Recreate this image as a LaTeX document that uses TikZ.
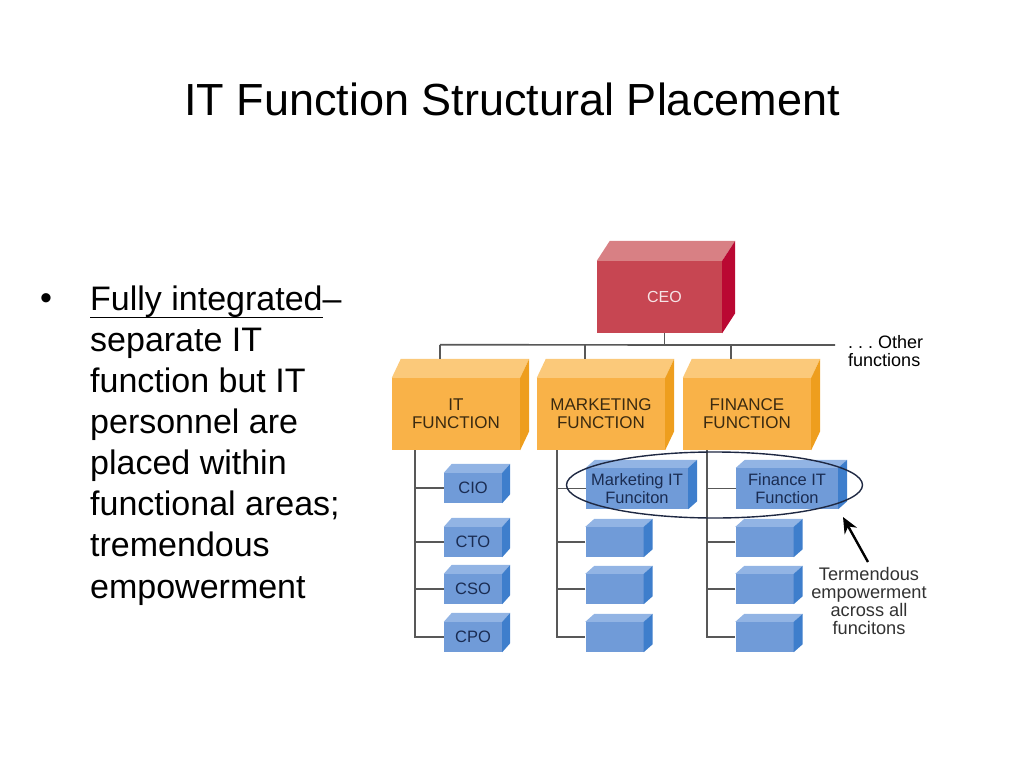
\documentclass[tikz,border=0pt]{standalone}
\usepackage{fontspec}
\setmainfont{Liberation Sans}
\usetikzlibrary{arrows.meta}

\definecolor{frontceo}{RGB}{199,70,82}
\definecolor{topceo}{RGB}{216,128,132}
\definecolor{sideceo}{RGB}{186,8,50}
\definecolor{txtceo}{RGB}{246,228,230}
\definecolor{frontfn}{RGB}{249,178,72}
\definecolor{topfn}{RGB}{251,201,122}
\definecolor{sidefn}{RGB}{238,158,30}
\definecolor{txtfn}{RGB}{58,42,16}
\definecolor{frontsub}{RGB}{112,155,216}
\definecolor{topsub}{RGB}{146,180,228}
\definecolor{sidesub}{RGB}{62,126,204}
\definecolor{txtsub}{RGB}{26,44,82}
\definecolor{linegray}{RGB}{88,88,88}
\definecolor{ringnavy}{RGB}{30,40,66}
\definecolor{notegray}{RGB}{50,50,50}

\newcommand\ulined[1]{\setbox0\hbox{#1}\rlap{\rule[-8pt]{\wd0}{1.6pt}}\box0}

\begin{document}
\begin{tikzpicture}[x=1pt, y=-1pt,
  every node/.style={inner sep=0pt},
  ceobox/.style={fill=frontceo, text=txtceo, minimum width=125pt, minimum height=72pt, font=\fontsize{16}{18}\selectfont},
  fnbox/.style={fill=frontfn, text=txtfn, minimum width=128pt, minimum height=72pt, align=center, font=\fontsize{17}{18}\selectfont},
  subbox/.style={fill=frontsub, text=txtsub, minimum width=58pt, minimum height=30pt, align=center, font=\fontsize{16.5}{18}\selectfont},
  widebox/.style={subbox, minimum width=102pt, minimum height=41pt},
  link/.style={draw=linegray, line width=1.7pt},
  ring/.style={draw=ringnavy, line width=1.4pt},
  pointer/.style={draw=black, line width=2.4pt, -{Stealth[length=16pt, width=14pt]}},
  note/.style={text=notegray, align=center, font=\fontsize{18.2}{18}\selectfont}
]
\useasboundingbox (0,0) rectangle (1024,768);

% title and the bullet point
\node[anchor=base, font=\fontsize{45}{50}\selectfont] (title) at (512,115) {IT Function Structural Placement};
\node[font=\fontsize{34}{41}\selectfont] (dot) at (46,302) {\textbullet};
\node[anchor=north west, align=left, font=\fontsize{34}{41.1}\selectfont] (point) at (90,285.5)
  {\ulined{Fully integrated}--\\separate IT\\function but IT\\personnel are\\placed within\\functional areas;\\tremendous\\empowerment};

% front faces
\node[ceobox] (ceo) at (659.5,297) {\hspace*{10pt}CEO};
\node[fnbox] (itf) at (456,414) {IT\\FUNCTION};
\node[fnbox] (mkf) at (601,414) {MARKETING\\FUNCTION};
\node[fnbox] (fnf) at (747,414) {FINANCE\\FUNCTION};
\node[subbox] (cio) at (473,488) {CIO};
\node[subbox] (cto) at (473,542) {CTO};
\node[subbox] (cso) at (473,589) {CSO};
\node[subbox] (cpo) at (473,637) {CPO};
\node[widebox] (mkit) at (637,488.5) {Marketing IT\\Funciton};
\node[subbox] (mk2) at (614.5,542) {};
\node[subbox] (mk3) at (614.5,589) {};
\node[subbox] (mk4) at (614.5,637) {};
\node[widebox] (fnit) at (787,488.5) {Finance IT\\Function};
\node[subbox] (fn2) at (764.5,542) {};
\node[subbox] (fn3) at (764.5,589) {};
\node[subbox] (fn4) at (764.5,637) {};

% top and side faces
\foreach \n/\c/\dx/\dy in {ceo/ceo/13/20, itf/fn/9/19, mkf/fn/9/19, fnf/fn/9/19,
    cio/sub/8/9, cto/sub/8/9, cso/sub/8/9, cpo/sub/8/9, mkit/sub/9/8, mk2/sub/9/8,
    mk3/sub/9/8, mk4/sub/9/8, fnit/sub/9/8, fn2/sub/9/8, fn3/sub/9/8, fn4/sub/9/8} {
  \fill[top\c] (\n.north west) -- ++(\dx,-\dy) -- ([shift={(\dx,-\dy)}]\n.north east) -- (\n.north east) -- cycle;
  \fill[side\c] (\n.north east) -- ++(\dx,-\dy) -- ([shift={(\dx,-\dy)}]\n.south east) -- (\n.south east) -- cycle;
}

% reporting lines
\coordinate (busR) at (835,345);
\draw[link] ([shift={(48,-33)}]itf.north west) -- (busR);
\draw[link] ([xshift=5pt]ceo.south) -- ++(0,12);
\foreach \f in {itf,mkf,fnf}
  \draw[link] ([shift={(48,-19)}]\f.north west) -- ++(0,-14);
\foreach \f/\s/\a/\b/\c/\d in {itf/23/cio/cto/cso/cpo, mkf/20/mkit/mk2/mk3/mk4, fnf/24/fnit/fn2/fn3/fn4} {
  \coordinate (spine) at ([xshift=\s pt]\f.south west);
  \draw[link] (spine) |- (\d.west);
  \foreach \n in {\a,\b,\c}
    \draw[link] (\n.west) -- (\n.west -| spine);
}
\node[anchor=north west, align=left, font=\fontsize{18}{18.5}\selectfont] (other) at (848,335) {.\ .\ .\ Other\\functions};

% IT people across the functions
\draw[ring] (714.5,485) ellipse [x radius=148pt, y radius=33pt];
\node[note, anchor=north] (empower) at (869,567) {Termendous\\empowerment\\across all\\funcitons};
\coordinate (tip) at (843,517);
\draw[pointer] ([shift={(-1,-5)}]empower.north) -- (tip);
\end{tikzpicture}
\end{document}
